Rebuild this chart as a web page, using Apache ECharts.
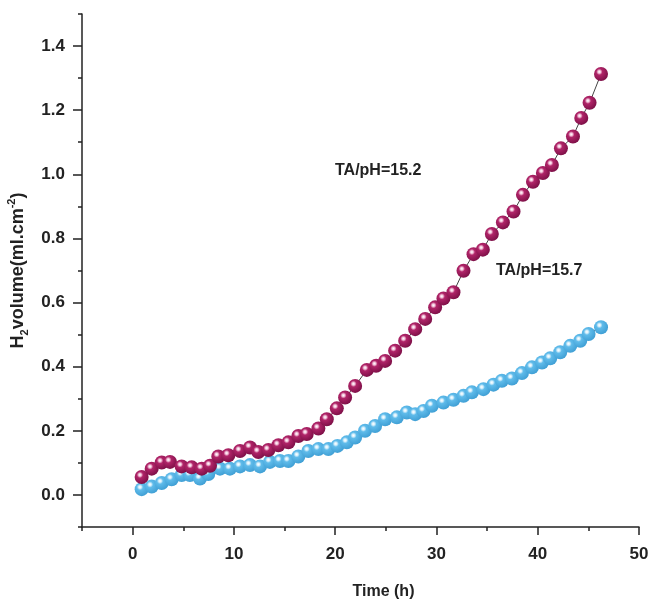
<!DOCTYPE html>
<html>
<head>
<meta charset="utf-8">
<script src="https://cdn.jsdelivr.net/npm/echarts@6/dist/echarts.min.js"></script>
<style>html,body{margin:0;padding:0;background:#fff;}#c{width:649px;height:599px;}</style>
</head>
<body>
<div id="c"></div>
<script>
// Time (h) and H2 volume for TA/pH = 15.2 (magenta)
const timeA = [0.89,1.88,2.87,3.69,4.84,5.83,6.82,7.64,8.46,9.45,10.60,11.59,12.41,13.40,14.39,15.38,16.36,17.19,18.34,19.17,20.16,20.98,21.97,23.12,24.04,24.93,25.92,26.91,27.90,28.89,29.87,30.69,31.68,32.67,33.66,34.58,35.47,36.56,37.61,38.54,39.53,40.51,41.40,42.29,43.48,44.30,45.12,46.25];
const volA  = [0.056,0.082,0.101,0.103,0.089,0.086,0.082,0.091,0.120,0.124,0.137,0.148,0.134,0.140,0.155,0.164,0.184,0.190,0.207,0.236,0.270,0.304,0.340,0.390,0.403,0.418,0.450,0.481,0.517,0.549,0.585,0.613,0.632,0.699,0.751,0.765,0.814,0.850,0.884,0.936,0.977,1.004,1.029,1.081,1.118,1.176,1.223,1.313];
// TA/pH = 15.7 (blue)
const timeB = [0.89,1.88,2.87,3.85,4.84,5.66,6.65,7.47,8.63,9.61,10.60,11.59,12.58,13.56,14.55,15.38,16.36,17.35,18.34,19.33,20.22,21.15,21.97,22.95,23.94,24.93,26.09,27.07,27.90,28.72,29.55,30.69,31.68,32.67,33.50,34.64,35.63,36.46,37.45,38.44,39.43,40.42,41.23,42.22,43.21,44.20,45.02,46.25];
const volB  = [0.018,0.026,0.037,0.049,0.062,0.062,0.051,0.065,0.082,0.082,0.089,0.093,0.089,0.103,0.106,0.106,0.120,0.137,0.143,0.143,0.153,0.164,0.179,0.200,0.215,0.236,0.242,0.257,0.252,0.262,0.278,0.288,0.297,0.309,0.320,0.330,0.344,0.356,0.363,0.380,0.398,0.413,0.426,0.445,0.465,0.481,0.502,0.523];
const xTicks = [0,10,20,30,40,50];
const yTicks = [0.0,0.2,0.4,0.6,0.8,1.0,1.2,1.4];
const labelA = 'TA/pH=15.2';
const labelB = 'TA/pH=15.7';

const chart = echarts.init(document.getElementById('c'), null, {renderer:'canvas'});
const FONT = '"Liberation Sans", Arial, sans-serif';
function sphere(stops){
  return new echarts.graphic.RadialGradient(0.38,0.35,0.7,stops);
}
const magenta = sphere([{offset:0,color:'#ffffff'},{offset:0.14,color:'#f3c6dc'},{offset:0.32,color:'#b02468'},{offset:1,color:'#7a0e45'}]);
const blue = sphere([{offset:0,color:'#ffffff'},{offset:0.14,color:'#d8f0fc'},{offset:0.32,color:'#5fbbea'},{offset:1,color:'#3d9dd3'}]);
function pairs(xs, ys){ return xs.map((x,i)=>[x, ys[i]]); }
const axisLineStyle = {color:'#222', width:1.5};
const labelStyle = {fontFamily:FONT, fontWeight:'bold', fontSize:17, color:'#222'};

chart.setOption({
  animation:false,
  backgroundColor:'#fff',
  grid:{left:82, right:10, top:14, bottom:72, containLabel:false, outerBoundsMode:'none'},
  xAxis:[{
    type:'value', min:-5, max:50,
    axisLine:{show:true, lineStyle:axisLineStyle, onZero:false},
    axisTick:{show:true, length:8, lineStyle:axisLineStyle, customValues:xTicks},
    axisLabel:Object.assign({margin:19, customValues:xTicks}, labelStyle),
    splitLine:{show:false},
    name:'Time (h)', nameLocation:'middle', nameGap:57,
    nameTextStyle:{fontFamily:FONT, fontWeight:'bold', fontSize:16, color:'#222', padding:[0,0,0,46]}
  },{
    type:'value', min:-5, max:50, interval:5, position:'bottom',
    axisLine:{show:false, onZero:false}, axisTick:{show:true, length:4, lineStyle:axisLineStyle},
    axisLabel:{show:false}, splitLine:{show:false}
  }],
  yAxis:[{
    type:'value', min:-0.1, max:1.5,
    axisLine:{show:true, lineStyle:axisLineStyle, onZero:false},
    axisTick:{show:true, length:9, lineStyle:axisLineStyle, customValues:yTicks},
    axisLabel:Object.assign({margin:17, customValues:yTicks, formatter:v=>v.toFixed(1)}, labelStyle),
    splitLine:{show:false},
    name:'{a|H}{s|2}{a|volume(ml.cm}{p|-2}{a|)}', nameLocation:'middle', nameGap:49, nameRotate:90,
    nameTextStyle:{
      padding:[0,0,0,0],
      rich:{
        a:{fontFamily:FONT, fontWeight:'bold', fontSize:18, color:'#222', lineHeight:24, verticalAlign:'middle'},
        s:{fontFamily:FONT, fontWeight:'bold', fontSize:11, color:'#222', lineHeight:24, verticalAlign:'bottom'},
        p:{fontFamily:FONT, fontWeight:'bold', fontSize:11, color:'#222', lineHeight:24, verticalAlign:'top'}
      }
    }
  },{
    type:'value', min:-0.1, max:1.5, interval:0.1, position:'left',
    axisLine:{show:false, onZero:false}, axisTick:{show:true, length:4, lineStyle:axisLineStyle},
    axisLabel:{show:false}, splitLine:{show:false}
  }],
  series:[{
    name:labelB, type:'line', data:pairs(timeB, volB),
    symbol:'circle', symbolSize:14, z:2,
    lineStyle:{color:'#444', width:1}, itemStyle:{color:blue}
  },{
    name:labelA, type:'line', data:pairs(timeA, volA),
    symbol:'circle', symbolSize:14, z:3,
    lineStyle:{color:'#444', width:1}, itemStyle:{color:magenta}
  }],
  graphic:[
    {type:'text', left:335, top:163, style:{text:labelA, font:'bold 16px '+FONT, fill:'#222'}},
    {type:'text', left:496, top:263, style:{text:labelB, font:'bold 16px '+FONT, fill:'#222'}}
  ]
});
</script>
</body>
</html>
